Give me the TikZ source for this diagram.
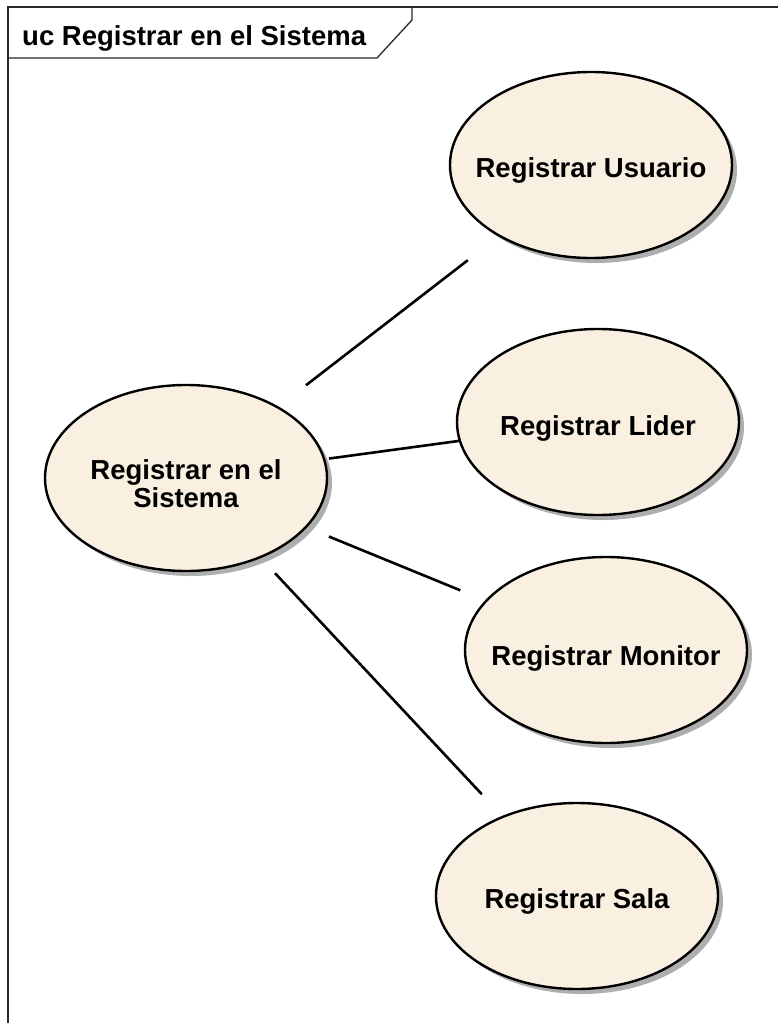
\documentclass[tikz,border=0pt]{standalone}
\usepackage{fontspec}
\setmainfont{Liberation Sans}
\usetikzlibrary{shadows,shapes.geometric}
\definecolor{ucfill}{RGB}{250,240,226}
\definecolor{framegray}{RGB}{40,40,40}
% zero-size label box, so every use case keeps the same ellipse size;
% the optional argument sets the text's vertical placement
\newcommand{\uclabel}[2][-13pt]{\makebox[0pt][c]{\raisebox{#1}[0pt][0pt]{\begin{tabular}{@{}c@{}}#2\end{tabular}}}}
\tikzset{
  usecase/.style={ellipse, draw=black, line width=2.4pt, fill=ucfill,
    minimum width=282pt, minimum height=186pt, inner sep=0pt, outer sep=0pt,
    font=\bfseries\fontsize{27.5}{28.5}\selectfont,
    drop shadow={shadow xshift=5pt, shadow yshift=-5pt, fill=black!45, opacity=0.7}},
  assoc/.style={line width=2.6pt, draw=black},
  ucframe/.style={line width=1.3pt, draw=framegray}
}
\begin{document}
\begin{tikzpicture}[x=1pt,y=-1pt]
  \useasboundingbox (0,0) rectangle (778,1023);
  % diagram frame and name tab
  \draw[ucframe] (778,7) -- (8,7) -- (8,1023);
  \draw[ucframe] (8,58) -- (377,58) -- (412,20) -- (412,7);
  \node[anchor=base west, font=\bfseries\fontsize{27.5}{31}\selectfont, inner sep=0pt]
    (title) at (22,45) {uc Registrar en el Sistema};
  % use cases
  \node[usecase] (sis) at (186,478) {\uclabel[-16pt]{Registrar en el\\Sistema}};
  \node[usecase] (usu) at (591,165) {\uclabel{Registrar Usuario}};
  \node[usecase] (lid) at (598,422) {\uclabel[-14pt]{Registrar Lider}};
  \node[usecase] (mon) at (606,650) {\uclabel[-16pt]{Registrar Monitor}};
  \node[usecase] (sal) at (577,896) {\uclabel{Registrar Sala}};
  % associations
  \draw[assoc, shorten <=36pt, shorten >=40pt] (sis) -- (usu);
  \draw[assoc, shorten <=5pt, shorten >=1pt] (sis) -- (lid);
  \draw[assoc, shorten <=25pt, shorten >=28pt] (sis) -- (mon);
  \draw[assoc, shorten <=22pt, shorten >=31pt] (sis) -- (sal);
\end{tikzpicture}
\end{document}
